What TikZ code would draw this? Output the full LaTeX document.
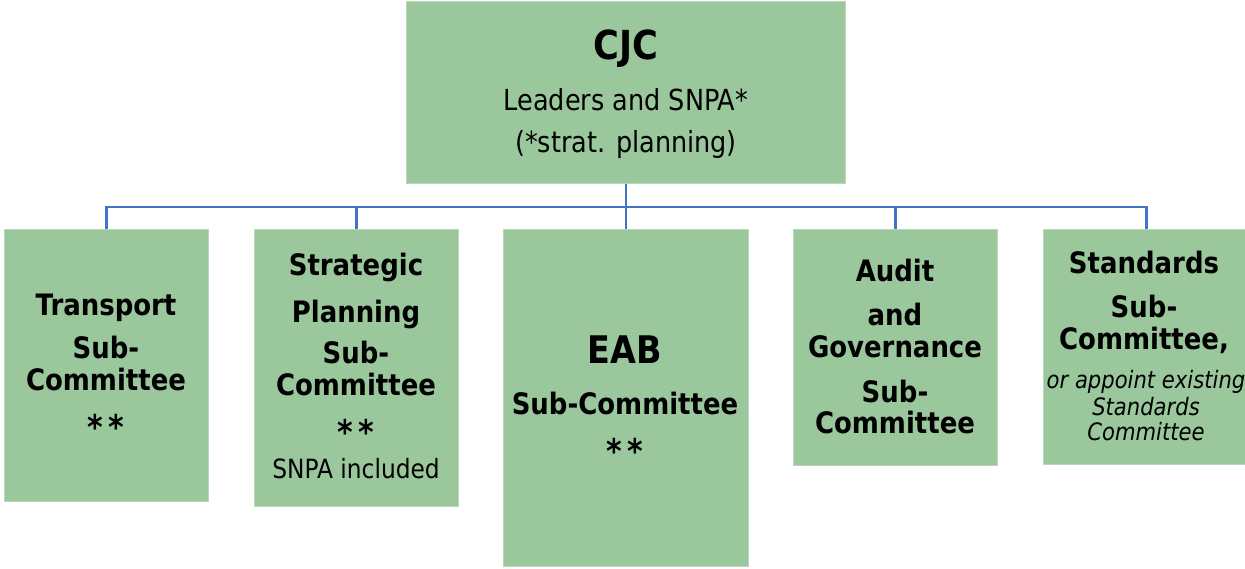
\documentclass[tikz,border=0pt]{standalone}
\usepackage{fontspec}
\setmainfont{DejaVu Sans}[FakeStretch=0.88]
\definecolor{boxgreen}{RGB}{155,199,156}
\definecolor{linkblue}{RGB}{68,114,196}
\tikzset{
  box/.style={rectangle, fill=boxgreen, draw=boxgreen!70!white, line width=0.6pt, anchor=north west, inner sep=0pt},
  conn/.style={draw=linkblue, line width=2.6pt},
  bt/.style={anchor=base, inner sep=0pt, font=\bfseries\fontsize{29.5}{34}\selectfont},
  st/.style={anchor=base, inner sep=0pt, font=\bfseries\fontsize{34}{38}\selectfont},
  rt/.style={anchor=base, inner sep=0pt, font=\fontsize{29}{33}\selectfont},
  it/.style={anchor=base, inner sep=0pt, font=\itshape\fontsize{24}{26}\selectfont},
}
\begin{document}
\begin{tikzpicture}[x=1pt, y=-1pt]
\useasboundingbox (0,0) rectangle (1245,568);
% boxes
\node[box, minimum width=439pt, minimum height=182pt] (cjc) at (406,1) {};
\node[box, minimum width=204pt, minimum height=272pt] (b1) at (4,229) {};
\node[box, minimum width=204pt, minimum height=277pt] (b2) at (254,229) {};
\node[box, minimum width=245pt, minimum height=337pt] (b3) at (503,229) {};
\node[box, minimum width=204pt, minimum height=236pt] (b4) at (793,229) {};
\node[box, minimum width=206pt, minimum height=235pt] (b5) at (1043,229) {};
% connectors
\draw[conn] (cjc.south) -- (b3.north);
\draw[conn] (b1.north) -- ++(0,-22) -| (b5.north);
\draw[conn] (b2.north) -- ++(0,-22);
\draw[conn] (b4.north) -- ++(0,-22);
% CJC text
\node[bt, font=\bfseries\fontsize{40}{44}\selectfont] (t0a) at (626,59) {CJC};
\node[rt] (t0b) at (626,110) {Leaders and SNPA*};
\node[rt] (t0c) at (626,152) {(*strat. planning)};
% Transport
\node[bt] (t1a) at (106,315) {Transport};
\node[bt] (t1b) at (106,358) {Sub-};
\node[bt] (t1c) at (106,390) {Committee};
\node[st] (t1d) at (106,439) {*\,*};
% Strategic
\node[bt] (t2a) at (356,275) {Strategic};
\node[bt] (t2b) at (356,322) {Planning};
\node[bt] (t2c) at (356,363) {Sub-};
\node[bt] (t2d) at (356,395) {Committee};
\node[st] (t2e) at (356,444) {*\,*};
\node[rt, font=\fontsize{26.5}{30}\selectfont] (t2f) at (356,478) {SNPA included};
% EAB
\node[bt, font=\bfseries\fontsize{38}{42}\selectfont] (t3a) at (625,363) {EAB};
\node[bt] (t3b) at (625,414) {Sub-Committee};
\node[st] (t3c) at (625,463) {*\,*};
% Audit
\node[bt] (t4a) at (895,281) {Audit};
\node[bt] (t4b) at (895,325) {and};
\node[bt] (t4c) at (895,357) {Governance};
\node[bt] (t4d) at (895,402) {Sub-};
\node[bt] (t4e) at (895,433) {Committee};
% Standards
\node[bt] (t5a) at (1144,273) {Standards};
\node[bt] (t5b) at (1144,317) {Sub-};
\node[bt] (t5c) at (1144,349) {Committee,};
\node[it] (t5d) at (1146,388) {or appoint existing};
\node[it] (t5e) at (1146,415) {Standards};
\node[it] (t5f) at (1146,440) {Committee};
\end{tikzpicture}
\end{document}
